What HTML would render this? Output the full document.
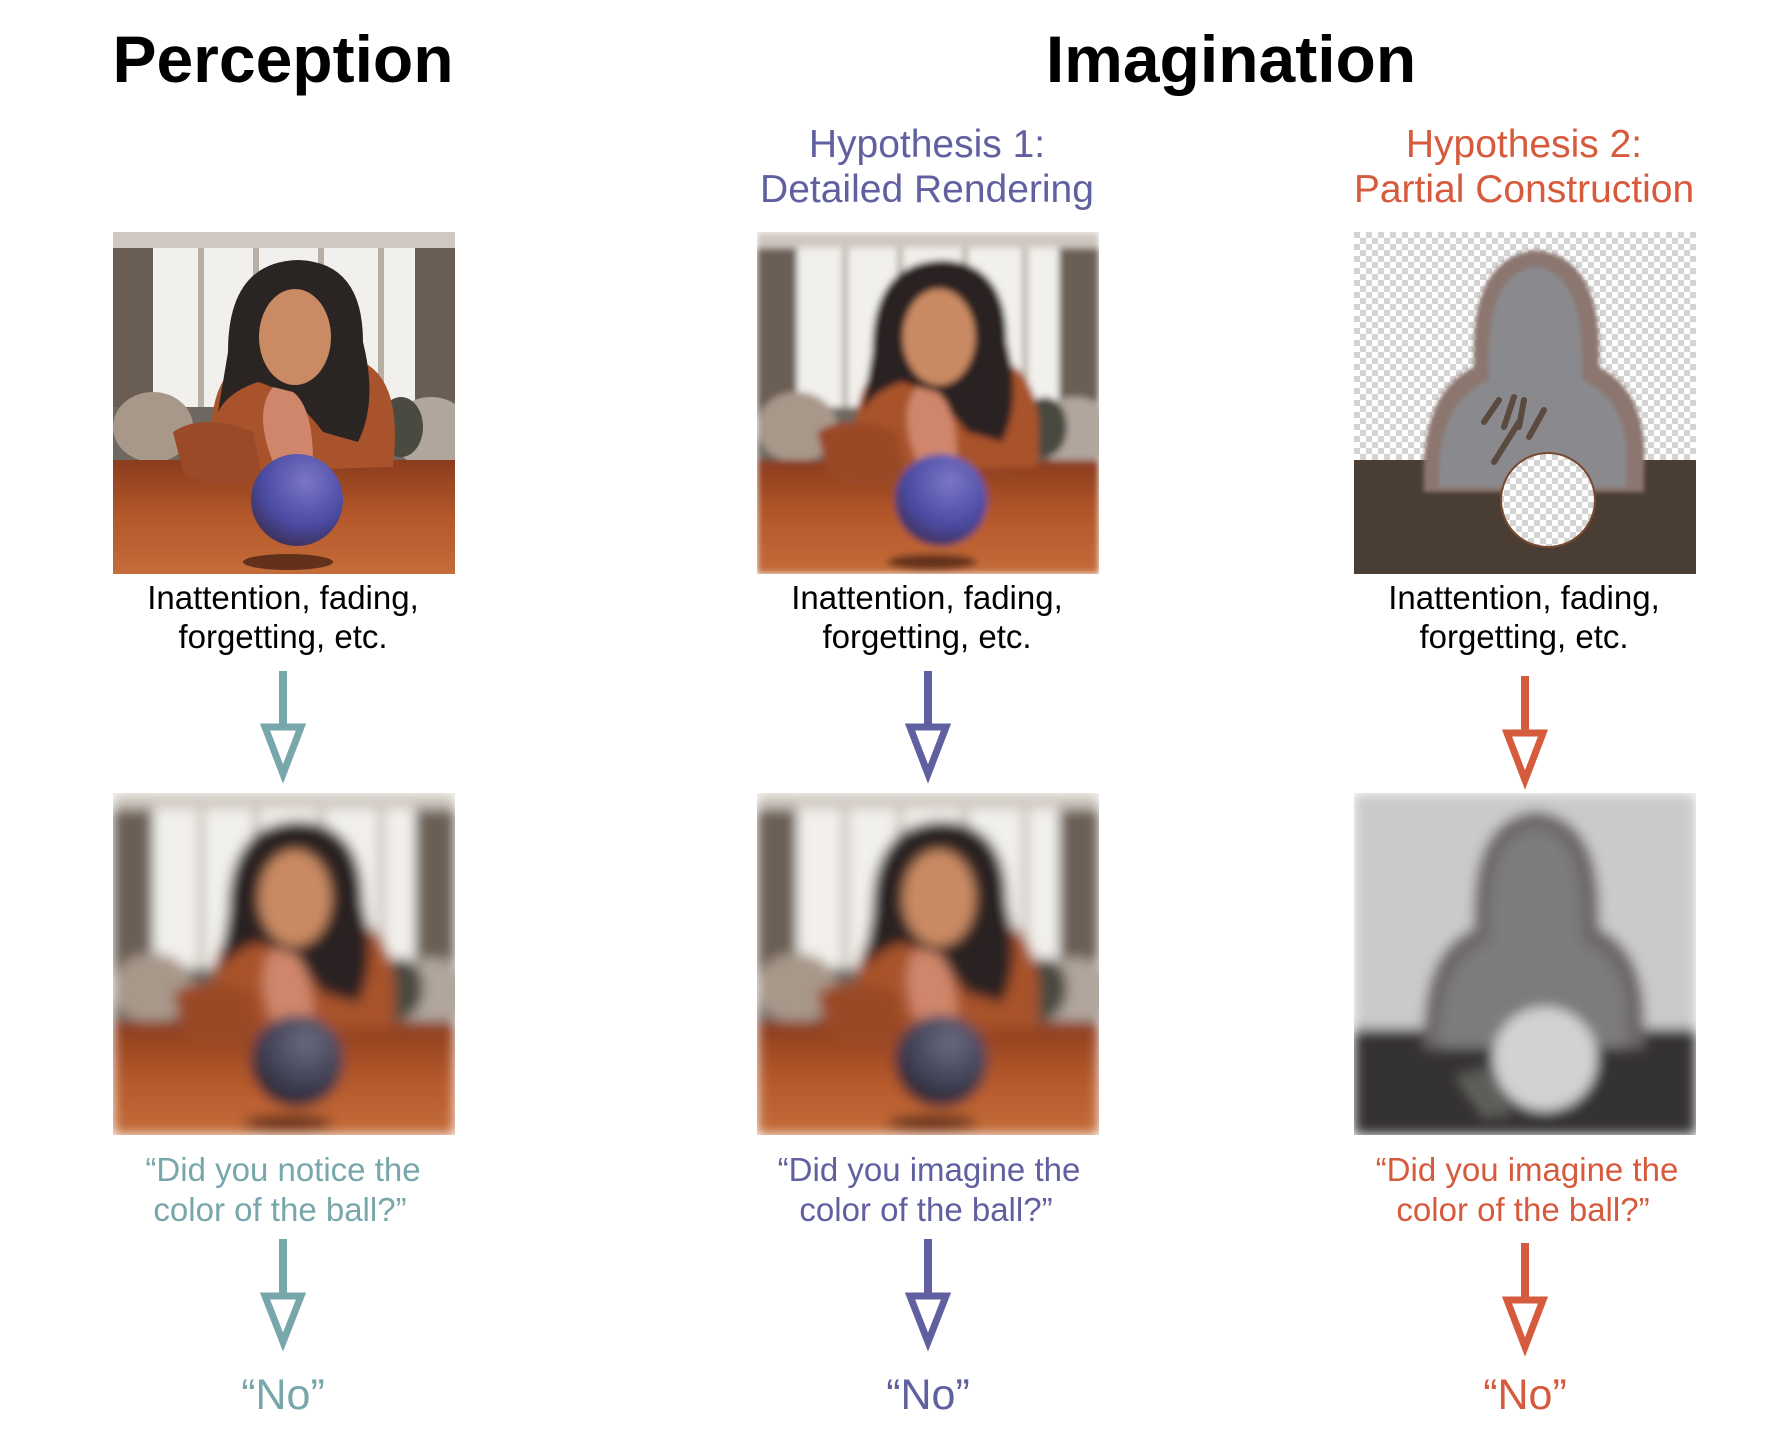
<!DOCTYPE html>
<html><head><meta charset="utf-8"><style>
html,body{margin:0;padding:0;background:#fff;}
svg{display:block;}
text{font-family:"Liberation Sans",Arial,sans-serif;}
</style></head><body>
<svg width="1770" height="1444" viewBox="0 0 1770 1444" xmlns="http://www.w3.org/2000/svg">
<defs>
  <pattern id="chk" width="12" height="12" patternUnits="userSpaceOnUse">
    <rect width="12" height="12" fill="#ffffff"/>
    <rect width="6" height="6" fill="#d4d4d4"/>
    <rect x="6" y="6" width="6" height="6" fill="#d4d4d4"/>
  </pattern>
  <linearGradient id="wood" x1="0" y1="0" x2="0" y2="1">
    <stop offset="0" stop-color="#8a3c1e"/>
    <stop offset="0.5" stop-color="#b4582a"/>
    <stop offset="1" stop-color="#c46c3a"/>
  </linearGradient>
  <radialGradient id="ball" cx="0.6" cy="0.3" r="0.8">
    <stop offset="0" stop-color="#7a76c8"/>
    <stop offset="0.6" stop-color="#4a4aa0"/>
    <stop offset="1" stop-color="#3a2a48"/>
  </radialGradient>
  <radialGradient id="ball2" cx="0.6" cy="0.3" r="0.8">
    <stop offset="0" stop-color="#6a6a80"/>
    <stop offset="0.6" stop-color="#3e3e52"/>
    <stop offset="1" stop-color="#1e1a24"/>
  </radialGradient>
  <filter id="b1" x="0" y="0" width="1" height="1"><feGaussianBlur stdDeviation="3.5"/></filter>
  <filter id="b2" x="0" y="0" width="1" height="1"><feGaussianBlur stdDeviation="6"/></filter>
  <filter id="b4" x="-0.1" y="-0.1" width="1.2" height="1.2"><feGaussianBlur stdDeviation="2"/></filter>
  <clipPath id="clip"><rect width="342" height="342"/></clipPath>

  <g id="room">
    <rect width="342" height="342" fill="#e6e2dc"/>
    <rect x="35" y="0" width="272" height="200" fill="#f2f0ec"/>
    <rect x="0" y="0" width="40" height="220" fill="#6a5e54"/>
    <rect x="302" y="0" width="40" height="220" fill="#6a5e54"/>
    <rect x="85" y="15" width="6" height="185" fill="#b8b0a6"/>
    <rect x="140" y="15" width="6" height="185" fill="#b8b0a6"/>
    <rect x="205" y="15" width="6" height="185" fill="#b8b0a6"/>
    <rect x="265" y="15" width="6" height="185" fill="#b8b0a6"/>
    <rect x="0" y="0" width="342" height="16" fill="#cfc8c0"/>
    <rect x="0" y="175" width="342" height="60" fill="#6e6860"/>
    <ellipse cx="40" cy="195" rx="40" ry="35" fill="#a8988a"/>
    <ellipse cx="318" cy="200" rx="40" ry="35" fill="#b0a69c"/>
    <ellipse cx="288" cy="195" rx="22" ry="30" fill="#4a4a40"/>
    <rect x="0" y="228" width="342" height="114" fill="url(#wood)"/>
  </g>
  <g id="woman1">
    <path d="M100 240 Q90 150 130 130 L250 130 Q290 150 280 235 Z" fill="#a8532c"/>
    <path d="M115 120 Q115 30 185 28 Q250 30 250 110 Q265 170 245 210 L210 200 Q180 160 145 150 Q115 160 105 180 Z" fill="#2a2422"/>
    <ellipse cx="182" cy="105" rx="36" ry="48" fill="#c98a64"/>
    <path d="M160 230 Q140 180 160 155 L180 160 Q200 175 200 230 Z" fill="#d0866a"/>
    <path d="M60 200 Q90 180 140 200 L150 250 Q100 260 70 240 Z" fill="#9a4a28"/>
    <ellipse cx="175" cy="330" rx="45" ry="8" fill="#3a1a10" opacity="0.7"/>
  </g>
  <g id="scene1">
    <use href="#room"/>
    <use href="#woman1"/>
  </g>
  <g id="scene3a">
    <rect width="342" height="342" fill="url(#chk)"/>
    <rect x="0" y="228" width="342" height="114" fill="#4a3e34"/>
    <g filter="url(#b4)">
      <path d="M70 260 Q65 160 120 135 Q115 25 182 18 Q250 25 245 135 Q295 160 290 240 L290 260 Z" fill="#8c7670"/>
      <path d="M85 255 Q82 170 135 148 Q130 40 182 35 Q232 40 228 148 Q278 170 272 240 L272 255 Z" fill="#8a8a8e"/>
    </g>
    <path d="M130 190 L145 168 M150 195 L160 165 M165 195 L170 168 M175 205 L190 178 M140 230 L165 190" stroke="#5a4a40" stroke-width="6" stroke-linecap="round"/>
    <circle cx="194" cy="268" r="47" fill="url(#chk)" stroke="#7a4a30" stroke-width="2"/>
  </g>
  <g id="scene3b">
    <rect width="342" height="342" fill="#cacaca"/>
    <rect x="0" y="236" width="342" height="106" fill="#363230"/>
    <path d="M70 255 Q65 160 120 135 Q115 25 182 18 Q250 25 245 135 Q295 160 290 240 L290 255 Z" fill="#6e6666"/>
    <path d="M85 255 Q82 170 135 148 Q130 40 182 35 Q232 40 228 148 Q278 170 272 240 L272 255 Z" fill="#7c7c7c"/>
    <circle cx="191" cy="266" r="52" fill="#d2d2d2"/>
    <path d="M110 285 L135 320 M125 280 L150 318" stroke="#6a6a66" stroke-width="10" stroke-linecap="round"/>
  </g>
</defs>

<text x="283" y="82" font-size="66" font-weight="bold" text-anchor="middle" fill="#000">Perception</text>
<text x="1231" y="82" font-size="66" font-weight="bold" text-anchor="middle" fill="#000">Imagination</text>

<text x="927" y="157" font-size="39" text-anchor="middle" fill="#6060a0">Hypothesis 1:</text>
<text x="927" y="202" font-size="39" text-anchor="middle" fill="#6060a0">Detailed Rendering</text>
<text x="1524" y="157" font-size="39" text-anchor="middle" fill="#d65a3c">Hypothesis 2:</text>
<text x="1524" y="202" font-size="39" text-anchor="middle" fill="#d65a3c">Partial Construction</text>

<g transform="translate(113,232)" clip-path="url(#clip)">
  <use href="#scene1"/>
  <circle cx="184" cy="268" r="46" fill="url(#ball)"/>
</g>
<g transform="translate(757,232)" clip-path="url(#clip)">
  <g filter="url(#b1)"><use href="#scene1"/>
  <circle cx="184" cy="268" r="46" fill="url(#ball)"/></g>
</g>
<g transform="translate(1354,232)" clip-path="url(#clip)">
  <use href="#scene3a"/>
</g>

<g font-size="33" text-anchor="middle" fill="#000">
<text x="283" y="609">Inattention, fading,</text>
<text x="283" y="648">forgetting, etc.</text>
<text x="927" y="609">Inattention, fading,</text>
<text x="927" y="648">forgetting, etc.</text>
<text x="1524" y="609">Inattention, fading,</text>
<text x="1524" y="648">forgetting, etc.</text>
</g>

<g fill="#fff" stroke-width="7">
<line x1="283" y1="671" x2="283" y2="726" stroke="#77a6ab" stroke-width="8"/>
<polygon points="265,727 301,727 283,774" stroke="#77a6ab"/>
<line x1="928" y1="671" x2="928" y2="726" stroke="#6060a0" stroke-width="8"/>
<polygon points="910,727 946,727 928,774" stroke="#6060a0"/>
<line x1="1525" y1="676" x2="1525" y2="732" stroke="#d65a3c" stroke-width="8"/>
<polygon points="1507,733 1543,733 1525,780" stroke="#d65a3c"/>
</g>

<g transform="translate(113,793)" clip-path="url(#clip)">
  <g filter="url(#b2)"><use href="#scene1"/>
  <circle cx="184" cy="268" r="46" fill="url(#ball2)"/></g>
</g>
<g transform="translate(757,793)" clip-path="url(#clip)">
  <g filter="url(#b2)"><use href="#scene1"/>
  <circle cx="184" cy="268" r="46" fill="url(#ball2)"/></g>
</g>
<g transform="translate(1354,793)" clip-path="url(#clip)">
  <g filter="url(#b2)"><use href="#scene3b"/></g>
</g>

<g font-size="33" text-anchor="middle">
<text x="283" y="1181" fill="#77a6ab">“Did you notice the</text>
<text x="280" y="1221" fill="#77a6ab">color of the ball?”</text>
<text x="929" y="1181" fill="#6060a0">“Did you imagine the</text>
<text x="926" y="1221" fill="#6060a0">color of the ball?”</text>
<text x="1527" y="1181" fill="#d65a3c">“Did you imagine the</text>
<text x="1523" y="1221" fill="#d65a3c">color of the ball?”</text>
</g>

<g fill="#fff" stroke-width="7">
<line x1="283" y1="1239" x2="283" y2="1295" stroke="#77a6ab" stroke-width="8"/>
<polygon points="265,1296 301,1296 283,1342" stroke="#77a6ab"/>
<line x1="928" y1="1239" x2="928" y2="1295" stroke="#6060a0" stroke-width="8"/>
<polygon points="910,1296 946,1296 928,1342" stroke="#6060a0"/>
<line x1="1525" y1="1243" x2="1525" y2="1299" stroke="#d65a3c" stroke-width="8"/>
<polygon points="1507,1300 1543,1300 1525,1347" stroke="#d65a3c"/>
</g>

<g font-size="43" text-anchor="middle">
<text x="283" y="1409" fill="#77a6ab">“No”</text>
<text x="928" y="1409" fill="#6060a0">“No”</text>
<text x="1525" y="1409" fill="#d65a3c">“No”</text>
</g>
</svg>
</body></html>
